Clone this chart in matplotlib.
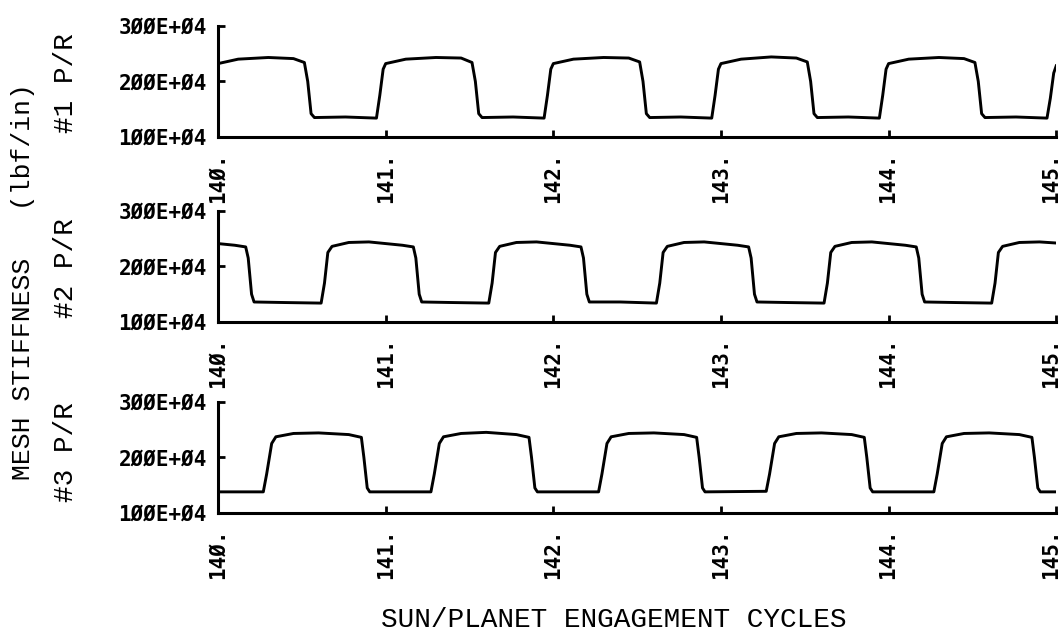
import matplotlib
matplotlib.use("Agg")
import matplotlib.pyplot as plt
import matplotlib.transforms as mtransforms

# mesh stiffness, in units of 1E+04 lbf/in
cycles = [140, 141, 142, 143, 144, 145]
tick_labels = ["14Ø.", "141.", "142.", "143.", "144.", "145."]
stiff_ticks = [100, 200, 300]
stiff_labels = ["1ØØE+Ø4", "2ØØE+Ø4", "3ØØE+Ø4"]

# planet #1: high first, drops at ~.52, back up at ~.97
p1_x = [140.00, 140.12, 140.30, 140.45, 140.515, 140.535, 140.555, 140.575, 140.76, 140.945, 140.965, 140.985,
        141.00, 141.12, 141.30, 141.45, 141.515, 141.535, 141.555, 141.575, 141.76, 141.945, 141.965, 141.985,
        142.00, 142.12, 142.30, 142.45, 142.515, 142.535, 142.555, 142.575, 142.76, 142.945, 142.965, 142.985,
        143.00, 143.12, 143.30, 143.45, 143.515, 143.535, 143.555, 143.575, 143.76, 143.945, 143.965, 143.985,
        144.00, 144.12, 144.30, 144.45, 144.515, 144.535, 144.555, 144.575, 144.76, 144.945, 144.965, 144.985,
        145.00]
p1_y = [232, 240, 243, 241, 234, 200, 142, 135, 136, 134, 175, 222,
        232, 240, 243, 242, 234, 200, 142, 135, 136, 134, 175, 222,
        232, 240, 243, 242, 235, 200, 142, 135, 136, 134, 175, 222,
        232, 240, 244, 242, 235, 200, 142, 135, 136, 134, 175, 222,
        232, 240, 243, 241, 234, 200, 142, 135, 136, 134, 170, 215,
        228]

# planet #2: drops at ~.17, back up at ~.63
p2_x = [140.00, 140.10, 140.165, 140.18, 140.20, 140.215, 140.40, 140.615, 140.635, 140.655, 140.68, 140.78, 140.90,
        141.00, 141.10, 141.165, 141.18, 141.20, 141.215, 141.40, 141.615, 141.635, 141.655, 141.68, 141.78, 141.90,
        142.00, 142.10, 142.165, 142.18, 142.20, 142.215, 142.40, 142.615, 142.635, 142.655, 142.68, 142.78, 142.90,
        143.00, 143.10, 143.165, 143.18, 143.20, 143.215, 143.40, 143.615, 143.635, 143.655, 143.68, 143.78, 143.90,
        144.00, 144.10, 144.165, 144.18, 144.20, 144.215, 144.40, 144.615, 144.635, 144.655, 144.68, 144.78, 144.90,
        145.00]
p2_y = [241, 238, 235, 215, 150, 136, 135, 134, 170, 225, 236, 243, 244,
        241, 238, 235, 215, 150, 136, 135, 134, 170, 225, 236, 243, 244,
        241, 238, 235, 215, 150, 136, 136, 134, 170, 225, 236, 243, 244,
        241, 238, 235, 215, 150, 136, 135, 134, 170, 225, 236, 243, 244,
        241, 238, 235, 215, 150, 136, 135, 134, 170, 225, 236, 243, 244,
        242]

# planet #3: low first, up at ~.28, drops at ~.86
p3_x = [140.00, 140.27, 140.29, 140.32, 140.345, 140.45, 140.60, 140.78, 140.855, 140.87, 140.89, 140.905,
        141.27, 141.29, 141.32, 141.345, 141.45, 141.60, 141.78, 141.855, 141.87, 141.89, 141.905,
        142.27, 142.29, 142.32, 142.345, 142.45, 142.60, 142.78, 142.855, 142.87, 142.89, 142.905,
        143.27, 143.29, 143.32, 143.345, 143.45, 143.60, 143.78, 143.855, 143.87, 143.89, 143.905,
        144.27, 144.29, 144.32, 144.345, 144.45, 144.60, 144.78, 144.855, 144.87, 144.89, 144.905,
        145.00]
p3_y = [138, 138, 170, 225, 237, 243, 244, 241, 236, 200, 145, 138,
        138, 170, 225, 237, 243, 245, 241, 236, 200, 145, 138,
        138, 170, 225, 237, 243, 244, 241, 236, 200, 145, 138,
        139, 170, 225, 237, 243, 244, 241, 236, 200, 145, 138,
        138, 170, 225, 237, 243, 244, 241, 236, 200, 145, 138,
        138]

panels = [("#1 P/R", p1_x, p1_y), ("#2 P/R", p2_x, p2_y), ("#3 P/R", p3_x, p3_y)]

fig = plt.figure(figsize=(10.61, 6.32), dpi=100)
tick_font = dict(family="DejaVu Sans Mono", weight="bold", size=15)
label_font = dict(family="Liberation Mono", size=20)

bottoms = [0.7832, 0.4905, 0.1883]
name_y = [0.869, 0.576, 0.285]
for (name, xs, ys), b, ny in zip(panels, bottoms, name_y):
    ax = fig.add_axes([0.2055, b, 0.790, 0.176])
    ax.plot(xs, ys, color="black", lw=2.1)
    ax.set_xlim(140, 145)
    ax.set_ylim(100, 300)
    for s in ["top", "right"]:
        ax.spines[s].set_visible(False)
    for s in ["left", "bottom"]:
        ax.spines[s].set_linewidth(2.2)
    ax.set_xticks(cycles)
    ax.set_xticklabels(tick_labels, rotation=90, fontdict=tick_font)
    ax.set_yticks(stiff_ticks)
    ax.set_yticklabels(stiff_labels, fontdict=tick_font)
    ax.tick_params(direction="in", length=5, width=2, pad=8)
    ax.tick_params(axis="x", pad=11)
    # last label sits on the right edge, nudge it back inside
    last = ax.get_xticklabels()[-1]
    last.set_transform(last.get_transform() + mtransforms.ScaledTranslation(-5 / 100, 0, fig.dpi_scale_trans))
    fig.text(0.062, ny, name, rotation=90, ha="center", va="center", **label_font)

fig.text(0.022, 0.555, "MESH STIFFNESS   (lbf/in)", rotation=90, ha="center", va="center",
         family="Liberation Mono", size=19)
fig.text(0.578, 0.008, "SUN/PLANET ENGAGEMENT CYCLES", ha="center", va="baseline", **label_font)

fig.savefig("out.png", dpi=100)
